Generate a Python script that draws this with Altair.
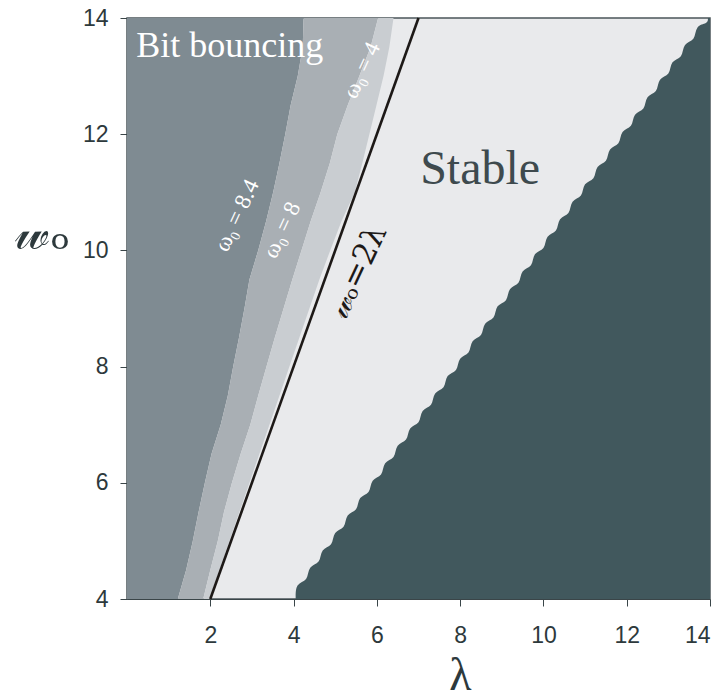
import altair as alt
import pandas as pd

# ---- stability map data ---------------------------------------------------
# heights on the w0 axis at which the band edges are sampled
w_grid = [4.0, 4.5, 5.0, 5.5, 6.0, 6.5, 7.0, 7.5, 8.0, 8.5, 9.0, 9.5,
          10.0, 10.5, 11.0, 11.5, 12.0, 12.5, 13.0, 13.5, 14.0]
# lambda at the right edge of each bit-bouncing band
edge_84 = [1.22, 1.42, 1.58, 1.72, 1.87, 2.03, 2.25, 2.42, 2.55, 2.69, 2.82,
           2.94, 3.15, 3.34, 3.51, 3.66, 3.80, 3.93, 4.10, 4.22, 4.24]
edge_8 = [1.83, 2.00, 2.18, 2.33, 2.52, 2.73, 2.96, 3.15, 3.35, 3.55, 3.76,
          3.97, 4.19, 4.41, 4.65, 4.87, 5.05, 5.30, 5.58, 5.85, 6.03]
edge_4 = [1.98, 2.22, 2.46, 2.70, 2.94, 3.18, 3.42, 3.66, 3.90, 4.14, 4.38,
          4.62, 4.88, 5.15, 5.47, 5.65, 5.82, 5.99, 6.16, 6.30, 6.40]

# unstable region: rows of the computed grid (bottom of row, lambda where it starts)
row_w = [4.0, 4.3, 4.6, 4.9, 5.2, 5.5, 5.8, 6.1, 6.4, 6.7, 7.0, 7.3, 7.6, 7.9,
         8.2, 8.5, 8.8, 9.1, 9.4, 9.7, 10.0, 10.3, 10.6, 10.9, 11.2, 11.5,
         11.8, 12.1, 12.4, 12.7, 13.0, 13.3, 13.6, 13.9]
row_lam = [4.05, 4.35, 4.65, 4.95, 5.25, 5.55, 5.85, 6.15, 6.45, 6.75, 7.05,
           7.35, 7.65, 7.95, 8.25, 8.55, 8.85, 9.15, 9.45, 9.75, 10.05, 10.35,
           10.65, 10.95, 11.25, 11.55, 11.85, 12.15, 12.45, 12.75, 13.05,
           13.35, 13.65, 13.95]

# the line w0 = 2*lambda
line_lam = [2.0, 7.0]
line_w = [4.0, 14.0]

x_ticks = [2, 4, 6, 8, 10, 12, 14]
y_ticks = [4, 6, 8, 10, 12, 14]

LAM_MIN, LAM_MAX = 0.0, 14.0
W_MIN, W_MAX = 4.0, 14.0

C_DARK = "#7f8b92"
C_MED = "#a9afb4"
C_LIGHT = "#c9cdd1"
C_STABLE = "#e9eaec"
C_TEAL = "#41585d"
C_INK = "#2d393c"

bands = pd.DataFrame({
    "w": w_grid,
    "lo": [LAM_MIN] * len(w_grid),
    "e84": edge_84,
    "e8": edge_8,
    "e4": edge_4,
})

# outline of the unstable region: each grid row contributes its bottom and
# (slightly lower) top corner so the rows sort cleanly along w
row_top = [v - 0.02 for v in row_w[1:]] + [W_MAX]
stair = pd.DataFrame({
    "w": [v for pair in zip(row_w, row_top) for v in pair],
    "lam": [v for lam in row_lam for v in (lam, lam)],
})
stair["hi"] = LAM_MAX

line = pd.DataFrame({"lam": line_lam, "w": line_w})

xs = alt.Scale(domain=[LAM_MIN, LAM_MAX], nice=False, zero=False)
ys = alt.Scale(domain=[W_MIN, W_MAX], nice=False, zero=False)

x_axis = alt.Axis(
    values=x_ticks, title="λ", grid=False, format="d",
    labelFont="Liberation Sans", labelFontSize=23, labelColor=C_INK,
    labelPadding=18, tickSize=7, tickColor="#3a4548", domainColor="#3a4548",
    titleFont="Liberation Serif", titleFontSize=46, titleFontWeight="normal",
    titleColor=C_INK, titleX=333, titleY=90, titleBaseline="alphabetic",
)
y_axis = alt.Axis(
    values=y_ticks, title="𝓌ₒ", grid=False, format="d",
    labelFont="Liberation Sans", labelFontSize=23, labelColor=C_INK,
    labelPadding=12, tickSize=7, tickColor="#3a4548", domainColor="#3a4548",
    titleFont="DejaVu Serif", titleFontSize=50, titleFontWeight="normal",
    titleColor=C_INK, titleAngle=0, titleX=-85, titleY=215,
    titleBaseline="middle", titleAlign="center",
)

base = alt.Chart(bands)

dark = base.mark_area(orient="horizontal", color=C_DARK).encode(
    y=alt.Y("w:Q", scale=ys, axis=y_axis),
    x=alt.X("lo:Q", scale=xs, axis=x_axis),
    x2="e84:Q",
)
med = base.mark_area(orient="horizontal", color=C_MED).encode(
    y=alt.Y("w:Q", scale=ys), x=alt.X("e84:Q", scale=xs), x2="e8:Q"
)
light = base.mark_area(orient="horizontal", color=C_LIGHT).encode(
    y=alt.Y("w:Q", scale=ys), x=alt.X("e8:Q", scale=xs), x2="e4:Q"
)
unstable = alt.Chart(stair).mark_area(
    orient="horizontal", color=C_TEAL, interpolate="basis"
).encode(
    y=alt.Y("w:Q", scale=ys), x=alt.X("lam:Q", scale=xs), x2="hi:Q",
)
boundary = alt.Chart(line).mark_line(color="#1d1917", strokeWidth=2.6).encode(
    x=alt.X("lam:Q", scale=xs), y=alt.Y("w:Q", scale=ys)
)


def label(lam, w, text, **kw):
    df = pd.DataFrame({"lam": [lam], "w": [w], "t": [text]})
    return alt.Chart(df).mark_text(**kw).encode(
        x=alt.X("lam:Q", scale=xs), y=alt.Y("w:Q", scale=ys), text="t:N"
    )


labels = [
    label(0.22, 13.33, "Bit bouncing", font="Liberation Serif", fontSize=36,
          color="white", align="left", baseline="alphabetic"),
    label(7.04, 11.14, "Stable", font="Liberation Serif", fontSize=48,
          color="#3e4a4e", align="left", baseline="alphabetic"),
    label(2.64, 10.6, "ω₀ = 8.4", font="Liberation Serif", fontSize=23,
          color="white", angle=295, align="center", baseline="middle"),
    label(3.72, 10.35, "ω₀ = 8", font="Liberation Serif", fontSize=23,
          color="white", angle=295, align="center", baseline="middle"),
    label(5.64, 13.1, "ω₀ = 4", font="Liberation Serif", fontSize=23,
          color="white", angle=295, align="center", baseline="middle"),
    label(5.55, 9.63, "𝓌ₒ=2λ", font="DejaVu Serif", fontSize=31,
          color="#1d1917", angle=295, align="center", baseline="middle"),
]

chart = alt.layer(dark, med, light, unstable, boundary, *labels).properties(
    width=583, height=581,
    padding={"left": 127, "top": 18, "right": 15, "bottom": 101},
    autosize=alt.AutoSizeParams(type="none"),
).configure_view(
    fill=C_STABLE, stroke="#4b5659", strokeWidth=1.5
)

chart.save("out.html", embed_options={"renderer": "svg", "actions": False})
